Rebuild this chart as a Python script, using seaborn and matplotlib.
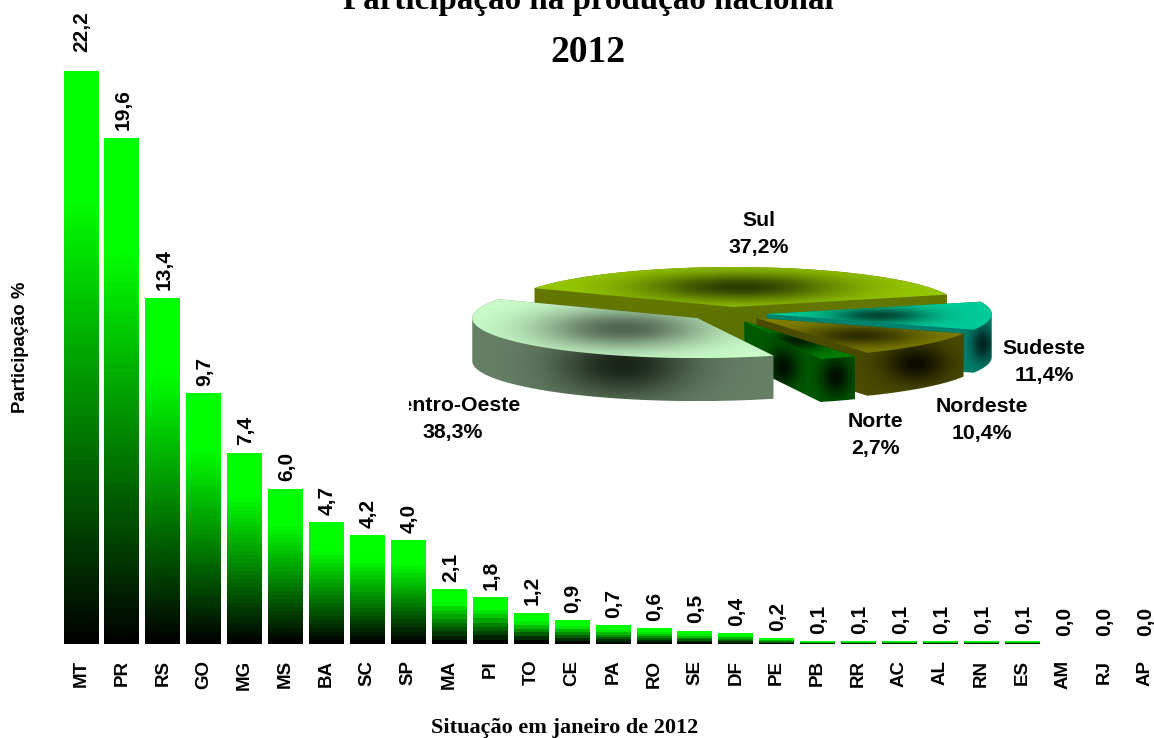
import numpy as np
import pandas as pd
import seaborn as sns
import matplotlib
import matplotlib.pyplot as plt
from matplotlib.patches import Polygon
from matplotlib.transforms import Bbox

matplotlib.use('Agg')

states = ['MT', 'PR', 'RS', 'GO', 'MG', 'MS', 'BA', 'SC', 'SP', 'MA', 'PI', 'TO', 'CE', 'PA',
          'RO', 'SE', 'DF', 'PE', 'PB', 'RR', 'AC', 'AL', 'RN', 'ES', 'AM', 'RJ', 'AP']
state_share = [22.2, 19.6, 13.4, 9.7, 7.4, 6.0, 4.7, 4.2, 4.0, 2.1, 1.8, 1.2, 0.9, 0.7,
               0.6, 0.5, 0.4, 0.2, 0.1, 0.1, 0.1, 0.1, 0.1, 0.1, 0.0, 0.0, 0.0]

regions = ['Sul', 'Centro-Oeste', 'Norte', 'Nordeste', 'Sudeste']
region_share = [37.2, 38.3, 2.7, 10.4, 11.4]

# styling of the fake 3d pie, same order as regions
explode = [0.0, 0.21, 0.12, 0.14, 0.15]
drop = [0.0, 0.14, 0.25, 0.18, 0.17]
top_colors = [(153, 204, 0), (204, 255, 204), (0, 128, 0), (128, 128, 0), (0, 204, 153)]
top_dark = [(45, 60, 0), (80, 100, 80), (0, 30, 0), (45, 45, 0), (0, 70, 50)]
top_spread = [(0.25, 0.36), (0.28, 0.34), (0.3, 0.3), (0.28, 0.3), (0.22, 0.28)]
wall_colors = [(100, 120, 0), (102, 128, 102), (0, 90, 0), (75, 75, 0), (0, 130, 110)]
wall_dark = [(92, 112, 0), (25, 35, 25), (0, 15, 0), (12, 12, 0), (0, 35, 30)]
wall_glows = [[(0.5, 0.7)], [(0.5, 0.65)], [(0.35, 0.57), (0.83, 0.69)], [(0.77, 0.58)], [(0.96, 0.6)]]
wall_spread = [(0.2, 0.28), (0.22, 0.3), (0.14, 0.25), (0.15, 0.25), (0.05, 0.25)]
draw_order = [0, 4, 3, 2, 1]
label_pos = [(759, 234), (453, 419), (875, 435), (982, 420), (1044, 362)]

W, H = 1154, 738
SANS = 'Liberation Sans'
SERIF = 'Liberation Serif'

sns.set_theme(style='white')
fig = plt.figure(figsize=(W / 100, H / 100), dpi=100, facecolor='white')


def px_rect(x0, y0, x1, y1):
    return [x0 / W, 1 - y1 / H, (x1 - x0) / W, (y1 - y0) / H]


def fx(x):
    return x / W


def fy(y):
    return 1 - y / H


# bars
ax = fig.add_axes(px_rect(60.5, 25.3, 1165.5, 644.5), clip_on=False)
df = pd.DataFrame({'uf': states, 'share': state_share})
sns.barplot(data=df, x='uf', y='share', color='black', width=0.85, ax=ax)
px_per_unit = (644.5 - 25.3) / 24
for bar in ax.patches:
    if bar.get_height() > 0:
        # short bars show visible bands in the original, tall ones are smooth
        levels = int(np.clip(bar.get_height() * px_per_unit / 4, 8, 160))
        bar_img = np.zeros((levels, 1, 3))
        bar_img[:, 0, 1] = np.clip(np.linspace(0, 1, levels) / 0.78, 0, 1)
        ax.imshow(bar_img, origin='lower', aspect='auto', interpolation='nearest', zorder=3,
                  extent=[bar.get_x(), bar.get_x() + bar.get_width(), 0, bar.get_height()])
    bar.set_visible(False)
ax.set_xlim(-0.5, len(states) - 0.5)
ax.set_ylim(0, 24)

value_labels = ax.bar_label(ax.containers[0], labels=[f'{v:.1f}'.replace('.', ',') for v in state_share],
                            rotation=90, padding=6, fontfamily=SANS, fontweight='bold', fontsize=15,
                            color='black')
for t in value_labels:
    t.set_visible(True)
    t.xyann = (0.7, 6)
value_labels[0].xyann = (0.7, 14)

sns.despine(ax=ax, left=True, bottom=True)
ax.set_yticks([])
ax.set_xlabel('')
ax.set_ylabel('')
ax.tick_params(axis='x', length=0, pad=11)
ax.set_xticks(range(len(states)))
ax.set_xticklabels(states, rotation=90, fontfamily=SANS, fontweight='bold', fontsize=13.5, color='black')
for lab in ax.get_xticklabels():
    lab.set_clip_on(False)

# pie, 1 unit = 225 px across and 40 px up
pie_ax = fig.add_axes(px_rect(733 - 337.5, 307 - 120, 733 + 337.5, 307 + 120))
pie_ax.patch.set_alpha(0)
wedges, _ = pie_ax.pie(region_share, startangle=18, counterclock=True, explode=explode, radius=1)
depth = 43 / 40


def convex_hull(points):
    pts = sorted(set(map(tuple, np.round(points, 5))))
    def half(seq):
        out = []
        for p in seq:
            while len(out) > 1 and ((out[-1][0] - out[-2][0]) * (p[1] - out[-2][1])
                                    - (out[-1][1] - out[-2][1]) * (p[0] - out[-2][0])) <= 0:
                out.pop()
            out.append(p)
        return out
    return np.array(half(pts)[:-1] + half(pts[::-1])[:-1])


def shaded(shape, base, dark, centers, spread, zorder):
    x0, y0 = shape.min(axis=0)
    x1, y1 = shape.max(axis=0)
    xx, yy = np.meshgrid(np.linspace(0, 1, 400), np.linspace(0, 1, 200))
    glow = np.zeros_like(xx)
    for c in centers:
        glow = np.maximum(glow, np.exp(-((xx - c[0]) / spread[0]) ** 2 - ((yy - c[1]) / spread[1]) ** 2))
    glow = glow[..., None]
    img = (np.array(base) * (1 - glow) + np.array(dark) * glow) / 255
    im = pie_ax.imshow(img, origin='lower', aspect='auto', extent=[x0, x1, y0, y1], zorder=zorder,
                       interpolation='bilinear')
    im.set_clip_path(Polygon(shape, closed=True, transform=pie_ax.transData))


z = 5
for i in draw_order:
    w = wedges[i]
    cx, cy = w.center
    cy -= drop[i]
    ang = np.radians(np.linspace(w.theta1, w.theta2, 120))
    outline = np.vstack([[cx, cy], np.column_stack([cx + np.cos(ang), cy + np.sin(ang)])])
    hull = convex_hull(np.vstack([outline, outline - [0, depth]]))
    glows = [(g[0], 1 - g[1]) for g in wall_glows[i]]
    shaded(hull, wall_colors[i], wall_dark[i], glows, wall_spread[i], z)
    shaded(outline, top_colors[i], top_dark[i], [(0.5, 0.5)], top_spread[i], z + 1)
    z += 2
for w in wedges:
    w.set_visible(False)
pie_ax.set_xlim(-1.5, 1.5)
pie_ax.set_ylim(-3, 3)
pie_ax.set_aspect('auto')
pie_ax.axis('off')

# pie labels
for name, share, (x, y) in zip(regions, region_share, label_pos):
    t = fig.text(fx(x), fy(y), name + '\n' + f'{share:.1f}%'.replace('.', ','), ha='center', va='center',
                 fontfamily=SANS, fontweight='bold', fontsize=15.3, linespacing=1.55, color='black')
    if name == 'Centro-Oeste':
        # the first letter is cut off in the original
        t.set_clip_on(True)
        t.set_clip_box(Bbox([[409, 0], [W, H]]))

fig.text(fx(588), fy(9), 'Participação na produção nacional', ha='center', va='baseline',
         fontfamily=SERIF, fontweight='bold', fontsize=23.8, color='black')
fig.text(fx(588), fy(53), '2012', ha='center', va='center',
         fontfamily=SERIF, fontweight='bold', fontsize=27, color='black')
fig.text(fx(21), fy(347), 'Participação %', rotation=90, ha='center', va='center',
         fontfamily=SANS, fontweight='bold', fontsize=13.3, color='black')
fig.text(fx(565), fy(728), 'Situação em janeiro de 2012', ha='center', va='center',
         fontfamily=SERIF, fontweight='bold', fontsize=16, color='black')

plt.savefig('out.png', dpi=100, facecolor='white')
plt.close()
